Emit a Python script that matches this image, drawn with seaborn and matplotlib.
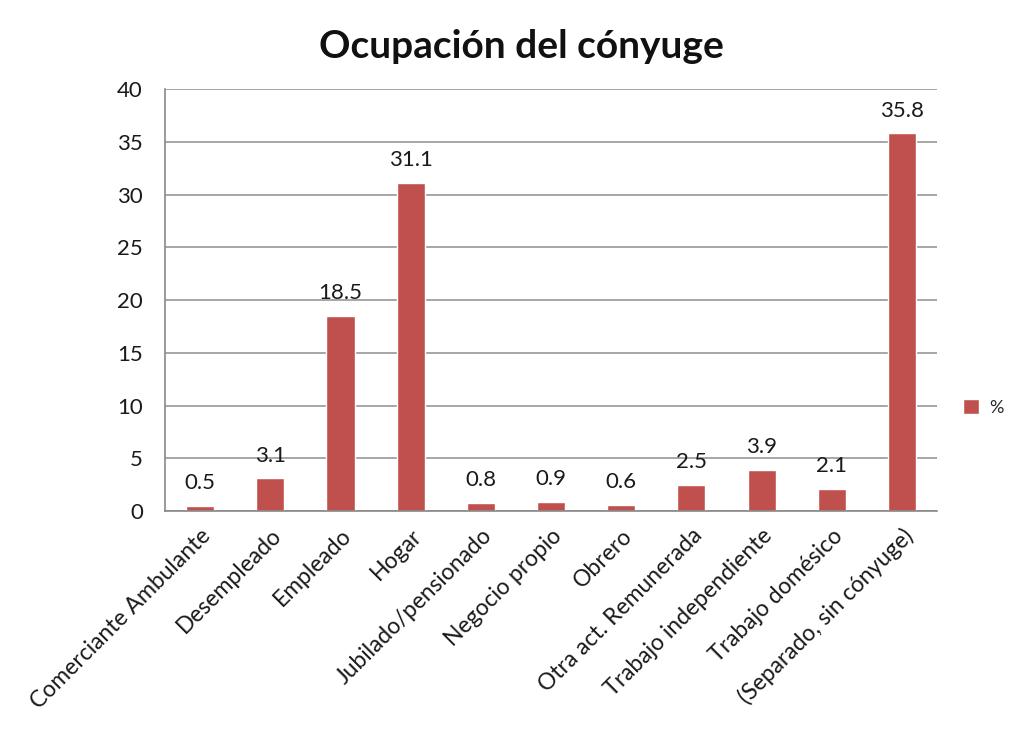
import matplotlib
matplotlib.use("Agg")
import matplotlib.pyplot as plt
import seaborn as sns
import pandas as pd
from matplotlib.patches import Patch

categories = ["Comerciante Ambulante", "Desempleado", "Empleado", "Hogar",
              "Jubilado/pensionado", "Negocio propio", "Obrero",
              "Otra act. Remunerada", "Trabajo independiente",
              "Trabajo domésico", "(Separado, sin cónyuge)"]
values = [0.5, 3.1, 18.5, 31.1, 0.8, 0.9, 0.6, 2.5, 3.9, 2.1, 35.8]
y_ticks = [0, 5, 10, 15, 20, 25, 30, 35, 40]

sns.set_theme(style="white")
plt.rcParams['font.family'] = ['Lato', 'DejaVu Sans']

df = pd.DataFrame({"cat": categories, "val": values})
color = "#C0504D"
txt = "#1a1a1a"

fig = plt.figure(figsize=(10.23, 7.34), dpi=100)
ax = fig.add_axes([0.1613, 0.3038, 0.7547, 0.5749])
sns.barplot(data=df, x="cat", y="val", color=color, width=0.4, ax=ax,
            saturation=1)

ax.set_ylim(0, 40)
ax.set_xlim(-0.5, len(categories) - 0.5)
ax.set_yticks(y_ticks)
ax.set_yticklabels([str(t) for t in y_ticks], fontsize=16, color=txt)
for t in y_ticks:
    ax.axhline(t, color="#A6A6A6", lw=1.4, zorder=0)

ax.set_xticks(range(len(categories)))
ax.set_xticklabels(categories, rotation=45, ha="right", rotation_mode="anchor",
                   fontsize=16.5, color=txt)
ax.tick_params(axis="x", length=0, pad=10)
ax.set_xticks([i - 0.5 for i in range(len(categories) + 1)], minor=True)
ax.tick_params(axis="x", which="minor", length=6, color="#888888", width=1, direction="out")
ax.tick_params(axis="y", length=6, color="#888888", width=1, direction="out", pad=10)
ax.set_xlabel("")
ax.set_ylabel("")

for s in ["top", "right"]:
    ax.spines[s].set_visible(False)
for s in ["left", "bottom"]:
    ax.spines[s].set_color("#888888")
    ax.spines[s].set_linewidth(1.2)

for i, v in enumerate(values):
    ax.text(i, v + 1.2, f"{v}", ha="center", va="bottom", fontsize=16, color=txt)

fig.text(0.51, 0.937, "Ocupación del cónyuge", ha="center", va="center",
         fontsize=28, fontweight="bold", color="#111111")

fig.legend(handles=[Patch(facecolor=color, label="%")], loc="center left",
           bbox_to_anchor=(0.925, 0.445), frameon=False, fontsize=13,
           handlelength=0.9, handleheight=0.9, handletextpad=0.6)

fig.savefig("out.png", dpi=100, facecolor="white")
